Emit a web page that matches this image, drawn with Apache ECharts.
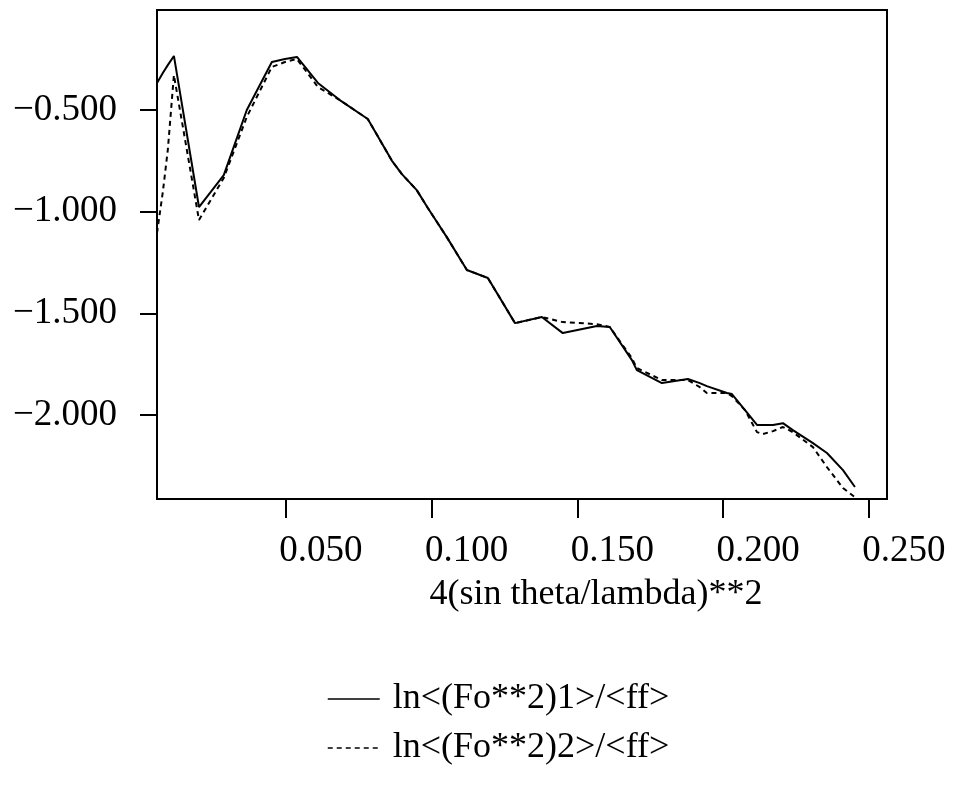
<!DOCTYPE html>
<html>
<head>
<meta charset="utf-8">
<script src="https://cdn.jsdelivr.net/npm/echarts@6/dist/echarts.min.js"></script>
<style>
html,body{margin:0;padding:0;background:#fff;}
#c{width:957px;height:807px;}
</style>
</head>
<body>
<div id="c"></div>
<script>
// x values: 4(sin theta/lambda)**2
const xValues = [0.0058,0.0078,0.0095,0.0116,0.0202,0.0287,0.0366,0.0452,0.0497,0.0538,0.0610,0.0685,0.0781,0.0864,0.0898,0.0949,0.0987,0.1052,0.1121,0.1193,0.1286,0.1378,0.1450,0.1567,0.1611,0.1687,0.1704,0.1790,0.1879,0.1920,0.1944,0.2013,0.2030,0.2075,0.2116,0.2136,0.2171,0.2205,0.2239,0.2308,0.2356,0.2411,0.2452];
const series1 = [-0.367,-0.318,-0.279,-0.234,-0.977,-0.820,-0.500,-0.264,-0.249,-0.239,-0.367,-0.451,-0.544,-0.750,-0.815,-0.894,-0.982,-1.125,-1.287,-1.326,-1.548,-1.518,-1.597,-1.562,-1.567,-1.730,-1.779,-1.843,-1.823,-1.843,-1.858,-1.892,-1.897,-1.976,-2.049,-2.049,-2.049,-2.040,-2.074,-2.138,-2.187,-2.271,-2.354];
const series2 = [-1.105,-0.903,-0.697,-0.328,-1.041,-0.834,-0.534,-0.288,-0.264,-0.249,-0.387,-0.451,-0.544,-0.750,-0.815,-0.894,-0.982,-1.125,-1.287,-1.326,-1.548,-1.518,-1.543,-1.553,-1.567,-1.720,-1.769,-1.828,-1.828,-1.863,-1.892,-1.892,-1.907,-1.976,-2.084,-2.094,-2.079,-2.059,-2.084,-2.158,-2.256,-2.359,-2.404];
const seriesNames = ['ln<(Fo**2)1>/<ff>', 'ln<(Fo**2)2>/<ff>'];
const xTicks = [0.05, 0.10, 0.15, 0.20, 0.25];
const yTicks = [-2.0, -1.5, -1.0, -0.5];
const xTitle = '4(sin theta/lambda)**2';

const FONT = '"Liberation Serif", "Times New Roman", serif';
const chart = echarts.init(document.getElementById('c'), null, {renderer: 'canvas'});
const fmt = v => (v < 0 ? '\u2212' : '') + Math.abs(v).toFixed(3);

chart.setOption({
  animation: false,
  backgroundColor: '#fff',
  title: {
    text: xTitle,
    left: 591, top: 572,
    textAlign: 'center',
    textStyle: {fontFamily: FONT, fontSize: 36, fontWeight: 'normal', color: '#000'}
  },
  legend: {
    orient: 'vertical',
    left: 322, top: 676,
    itemWidth: 52, itemHeight: 20, itemGap: 13,
    itemStyle: {opacity: 0},
    lineStyle: {width: 1.5},
    textStyle: {fontFamily: FONT, fontSize: 36, color: '#000', padding: [0,0,0,8]},
    data: seriesNames
  },
  grid: {
    left: 157, top: 10, right: 70, bottom: 308,
    show: true, borderColor: '#000', borderWidth: 2, backgroundColor: 'transparent'
  },
  xAxis: {
    type: 'value',
    min: 0.0058, max: 0.2562,
    axisLine: {show: true, lineStyle: {color: '#000', width: 2}},
    axisTick: {show: true, customValues: xTicks, length: 19, inside: false, lineStyle: {color: '#000', width: 2}},
    axisLabel: {
      customValues: xTicks, formatter: fmt, margin: 34,
      fontFamily: FONT, fontSize: 37, color: '#000', padding: [0,0,0,70]
    },
    splitLine: {show: false}
  },
  yAxis: {
    type: 'value',
    min: -2.413, max: -0.008,
    axisLine: {show: true, lineStyle: {color: '#000', width: 2}},
    axisTick: {show: true, customValues: yTicks, length: 17, inside: false, lineStyle: {color: '#000', width: 2}},
    axisLabel: {
      customValues: yTicks, formatter: fmt, margin: 40,
      fontFamily: FONT, fontSize: 37, color: '#000'
    },
    splitLine: {show: false}
  },
  series: [
    {
      name: seriesNames[0], type: 'line', symbol: 'none',
      lineStyle: {color: '#000', width: 2, type: 'solid'},
      itemStyle: {color: '#000'},
      data: xValues.map((x, i) => [x, series1[i]])
    },
    {
      name: seriesNames[1], type: 'line', symbol: 'none',
      lineStyle: {color: '#000', width: 2, type: [5, 4]},
      itemStyle: {color: '#000'},
      data: xValues.map((x, i) => [x, series2[i]])
    }
  ]
});
</script>
</body>
</html>
